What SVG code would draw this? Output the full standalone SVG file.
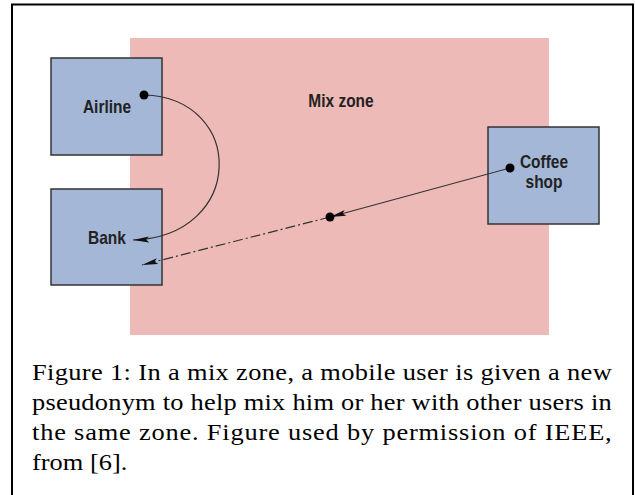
<svg xmlns="http://www.w3.org/2000/svg" width="635" height="495" viewBox="0 0 635 495">
  <style>
    .site { fill: #a5b7d7; stroke: #333333; stroke-width: 1.5; }
    .label { font-family: "Liberation Sans", Arial, sans-serif; font-weight: bold; font-size: 18px; fill: #222222; text-anchor: middle; }
    .path { fill: none; stroke: #333333; stroke-width: 1.2; }
    .dashdot { stroke-dasharray: 10 3 2 3; }
    .dot { fill: #000000; }
    .caption { font-family: "Liberation Serif", "Times New Roman", serif; font-size: 24px; fill: #000000; }
  </style>
  <defs>
    <marker id="arrow" viewBox="0 0 16 7" refX="16" refY="3.5" markerWidth="16" markerHeight="7" markerUnits="userSpaceOnUse" orient="auto">
      <path d="M0,0.5 L16,3.5 L0,6.5 L3,3.5 Z" fill="#111111"/>
    </marker>
  </defs>

  <!-- page frame -->
  <rect x="0" y="0" width="635" height="495" fill="#ffffff"/>
  <path d="M12,500 V4.5 H633 V500" fill="none" stroke="#000000" stroke-width="2"/>

  <!-- mix zone area -->
  <g id="mix-zone">
    <rect x="130" y="38" width="419" height="297" fill="#eebab7"/>
    <text class="label" transform="translate(341,107) scale(0.86,1)">Mix zone</text>
  </g>

  <g id="airline">
    <rect class="site" x="51" y="58" width="111" height="97"/>
    <text class="label" transform="translate(107,113) scale(0.86,1)">Airline</text>
  </g>

  <g id="bank">
    <rect class="site" x="51" y="189" width="111" height="96"/>
    <text class="label" transform="translate(107,244) scale(0.86,1)">Bank</text>
  </g>

  <g id="coffee-shop">
    <rect class="site" x="488" y="127" width="111" height="97"/>
    <text class="label" transform="translate(544,168) scale(0.86,1)">Coffee</text>
    <text class="label" transform="translate(544,188) scale(0.86,1)">shop</text>
  </g>

  <!-- movement paths -->
  <g id="connectors">
    <path class="path" d="M144,95 C246,98 246,236 133,240" marker-end="url(#arrow)"/>
    <path class="path" d="M510,168 L330,217" marker-end="url(#arrow)"/>
    <path class="path dashdot" d="M330,217 L142,265" marker-end="url(#arrow)"/>
    <circle class="dot" cx="144" cy="95" r="4.5"/>
    <circle class="dot" cx="510" cy="168" r="4.5"/>
    <circle class="dot" cx="330" cy="217" r="4.5"/>
  </g>

  <!-- caption, justified to the frame width -->
  <g id="caption" class="caption" transform="translate(32,0) scale(1.1,1)">
    <text x="0" y="380" textLength="527" lengthAdjust="spacing">Figure 1: In a mix zone, a mobile user is given a new</text>
    <text x="0" y="410" textLength="527" lengthAdjust="spacing">pseudonym to help mix him or her with other users in</text>
    <text x="0" y="440" textLength="527" lengthAdjust="spacing">the same zone. Figure used by permission of IEEE,</text>
    <text x="0" y="470">from [6].</text>
  </g>
</svg>
